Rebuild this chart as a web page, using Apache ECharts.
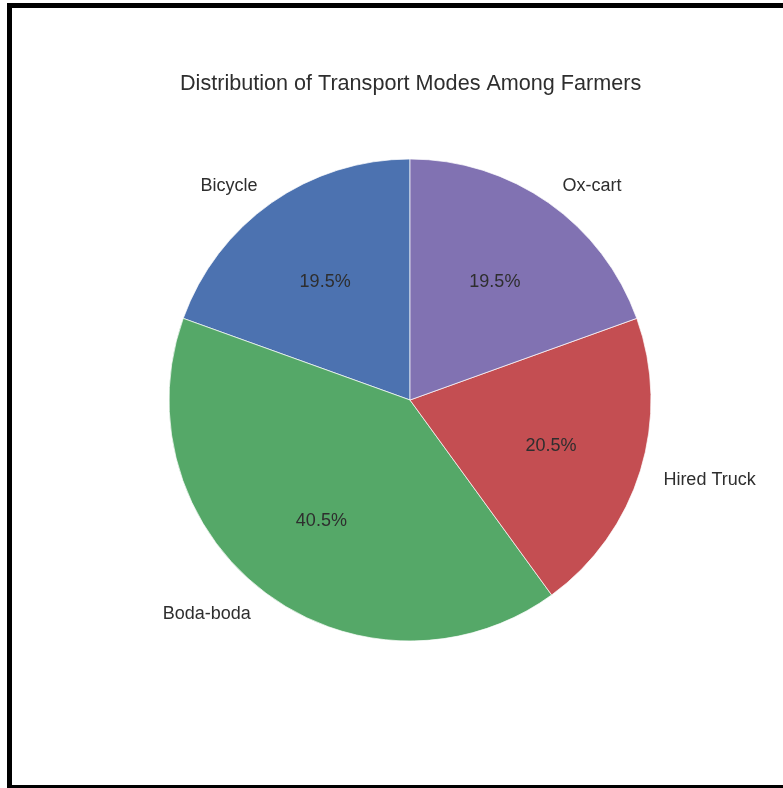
<!DOCTYPE html>
<html>
<head>
<meta charset="utf-8">
<script src="https://cdn.jsdelivr.net/npm/echarts@6/dist/echarts.min.js"></script>
<style>
html,body{margin:0;padding:0;background:#fff;}
#chart{width:783px;height:788px;}
</style>
</head>
<body>
<div id="chart"></div>
<script>
const titleText = 'Distribution of Transport Modes Among Farmers';
const categories = ['Bicycle', 'Boda-boda', 'Hired Truck', 'Ox-cart'];
const shares = [19.5, 40.5, 20.5, 19.5];
const colors = ['#4c72b0', '#55a868', '#c44e52', '#8172b2'];

const R = 241;
const center = [410, 400];
const font = '"Liberation Sans", Arial, sans-serif';
const textColor = '#2e2e2e';

const chart = echarts.init(document.getElementById('chart'), null, {renderer: 'canvas'});
const mainData = categories.map((c, i) => ({name: c, value: shares[i], itemStyle: {color: colors[i]}}));
const pctData = categories.map((c, i) => ({name: c, value: shares[i]}));

chart.setOption({
  animation: false,
  backgroundColor: '#fff',
  title: {
    text: titleText,
    left: 175,
    top: 66,
    textStyle: {fontFamily: font, fontSize: 21.6, fontWeight: 'normal', color: textColor, lineHeight: 26}
  },
  graphic: [{
    type: 'rect',
    shape: {x: 9.5, y: 5.5, width: 800, height: 782},
    style: {fill: 'none', stroke: '#000', lineWidth: 5},
    z: 100
  }],
  series: [
    {
      type: 'pie',
      center: center,
      radius: [0, R],
      startAngle: 90,
      clockwise: false,
      avoidLabelOverlap: false,
      data: mainData,
      itemStyle: {borderColor: '#ffffff', borderWidth: 0.7},
      label: {
        show: true,
        position: 'outside',
        formatter: '{b}',
        fontFamily: font,
        fontSize: 18,
        color: textColor,
        distanceToLabelLine: 0
      },
      labelLine: {show: false, length: R * 0.1, length2: 0},
      labelLayout: {dy: 2.5},
      emphasis: {disabled: true}
    },
    {
      type: 'pie',
      center: center,
      radius: [R * 0.2, R],
      startAngle: 90,
      clockwise: false,
      silent: true,
      avoidLabelOverlap: false,
      data: pctData,
      itemStyle: {color: 'rgba(0,0,0,0)', borderWidth: 0},
      label: {
        show: true,
        position: 'inside',
        formatter: p => p.value.toFixed(1) + '%',
        fontFamily: font,
        fontSize: 18,
        color: textColor
      },
      labelLine: {show: false},
      labelLayout: {dy: 3},
      emphasis: {disabled: true}
    }
  ]
});
</script>
</body>
</html>
